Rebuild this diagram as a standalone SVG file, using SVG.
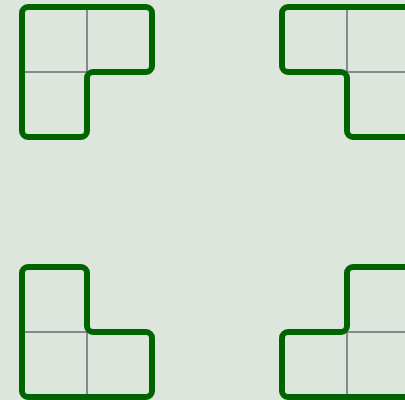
<svg xmlns="http://www.w3.org/2000/svg" width="405" height="400" viewBox="0 0 405 400">
<style>
.grid{stroke:#888888;stroke-width:2;fill:none}
.out{stroke:#006400;stroke-width:6;fill:none;stroke-linejoin:round}
</style>
<rect x="0" y="0" width="405" height="400" fill="#dce6dc"/>
<g id="piece1">
<path class="grid" d="M87,7 V72 M22,72 H87"/>
<path class="out" d="M28,7 H146 A6,6 0 0 1 152,13 V66 A6,6 0 0 1 146,72 H93 A6,6 0 0 0 87,78 V131 A6,6 0 0 1 81,137 H28 A6,6 0 0 1 22,131 V13 A6,6 0 0 1 28,7 Z"/>
</g>
<g id="piece2">
<path class="grid" d="M347,7 V72 M347,72 H412"/>
<path class="out" d="M288,7 H406 A6,6 0 0 1 412,13 V131 A6,6 0 0 1 406,137 H353 A6,6 0 0 1 347,131 V78 A6,6 0 0 0 341,72 H288 A6,6 0 0 1 282,66 V13 A6,6 0 0 1 288,7 Z"/>
</g>
<g id="piece3">
<path class="grid" d="M22,332 H87 M87,332 V397"/>
<path class="out" d="M28,267 H81 A6,6 0 0 1 87,273 V326 A6,6 0 0 0 93,332 H146 A6,6 0 0 1 152,338 V391 A6,6 0 0 1 146,397 H28 A6,6 0 0 1 22,391 V273 A6,6 0 0 1 28,267 Z"/>
</g>
<g id="piece4">
<path class="grid" d="M347,332 H412 M347,332 V397"/>
<path class="out" d="M353,267 H406 A6,6 0 0 1 412,273 V391 A6,6 0 0 1 406,397 H288 A6,6 0 0 1 282,391 V338 A6,6 0 0 1 288,332 H341 A6,6 0 0 0 347,326 V273 A6,6 0 0 1 353,267 Z"/>
</g>
<g id="connectors"></g>
</svg>
